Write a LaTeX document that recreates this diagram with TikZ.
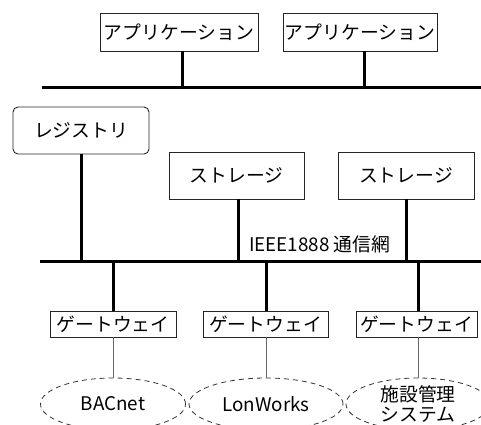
\documentclass[tikz,border=0pt]{standalone}
\usepackage{fontspec}
\setmainfont{Noto Sans CJK JP}
\usetikzlibrary{shapes.geometric}
\begin{document}
\begin{tikzpicture}[x=1pt,y=-1pt,
  every node/.style={font=\fontsize{18.8}{20}\selectfont, inner sep=0pt},
  box/.style={draw=black!85, line width=0.9pt, rectangle},
  bus/.style={line width=3pt},
  drop/.style={line width=3pt},
  thin/.style={draw=black!60, line width=0.9pt},
  cloud/.style={draw=black!80, ellipse, dash pattern=on 5pt off 4pt, line width=0.8pt, minimum height=52pt}
]
\useasboundingbox (0,0) rectangle (481,424);
% top layer
\node[box, minimum width=158pt, minimum height=38pt] (app1) at (179,32) {アプリケーション};
\node[box, minimum width=154pt, minimum height=38pt] (app2) at (360,32) {アプリケーション};
\coordinate (tl) at (42,87);
\coordinate (tr) at (481,87);
\coordinate (t1) at (182,87);
\coordinate (t2) at (364,87);
\draw[bus] (tl) -- (tr);
\draw[drop] (app1.south -| t1) -- (t1);
\draw[drop] (app2.south -| t2) -- (t2);
% middle layer
\node[box, rounded corners=5pt, minimum width=136pt, minimum height=47pt] (reg) at (81,130.5) {レジストリ};
\node[box, minimum width=135pt, minimum height=47pt] (st1) at (236.5,175.5) {ストレージ};
\node[box, minimum width=136pt, minimum height=47pt] (st2) at (406,175.5) {ストレージ};
\coordinate (ml) at (40,261);
\coordinate (mr) at (481,261);
\coordinate (m0) at (81,261);
\coordinate (m1) at (238,261);
\coordinate (m2) at (406,261);
\draw[bus] (ml) -- (mr);
\draw[drop] (reg.south -| m0) -- (m0);
\draw[drop] (st1.south -| m1) -- (m1);
\draw[drop] (st2.south -| m2) -- (m2);
\node[anchor=base west] (net) at (249,251) {IEEE1888 通信網};
% gateways
\node[box, minimum width=126pt, minimum height=26pt] (gw1) at (113,324) {ゲートウェイ};
\node[box, minimum width=125pt, minimum height=26pt] (gw2) at (265.5,324) {ゲートウェイ};
\node[box, minimum width=121pt, minimum height=26pt] (gw3) at (416.5,324) {ゲートウェイ};
\coordinate (g1) at (113,261);
\coordinate (g2) at (266,261);
\coordinate (g3) at (418,261);
\draw[drop] (g1) -- (g1 |- gw1.north);
\draw[drop] (g2) -- (g2 |- gw2.north);
\draw[drop] (g3) -- (g3 |- gw3.north);
% field networks
\node[cloud, minimum width=145pt] (bac) at (113,404) {BACnet};
\node[cloud, minimum width=154pt] (lon) at (266,404) {LonWorks};
\node[cloud, minimum width=144pt, align=center, font=\fontsize{18.8}{19.5}\selectfont] (fac) at (418,404) {施設管理\\システム};
\draw[thin] (gw1.south -| g1) -- (bac.north);
\draw[thin] (gw2.south -| g2) -- (lon.north);
\draw[thin] (gw3.south -| g3) -- (fac.north);
\end{tikzpicture}
\end{document}
